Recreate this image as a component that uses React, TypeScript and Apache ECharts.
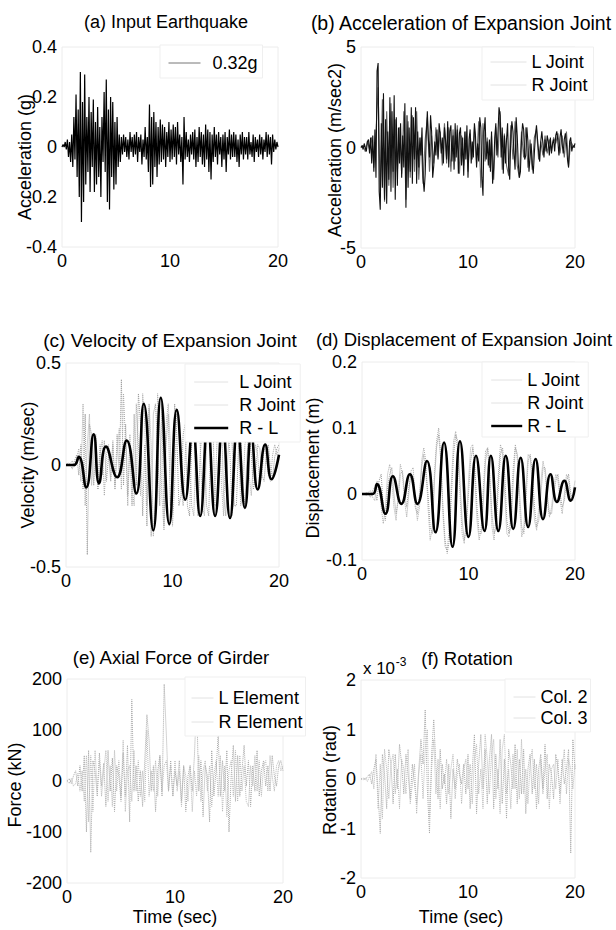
import React, { useEffect, useRef } from "react";
import * as echarts from "echarts";

const FONT = "'Liberation Sans', Arial, Helvetica, sans-serif";

// sampling steps of the recorded histories (s)
const STEP_FINE = 0.1;
const STEP_COARSE = 0.2;

// time axis
const timeMin = 0;
const timeMax = 20;
const timeInterval = 10;

// y-axis ranges [min, max, interval] per panel
const rangeA = [-0.4, 0.4, 0.2];
const rangeB = [-5, 5, 5];
const rangeC = [-0.5, 0.5, 0.5];
const rangeD = [-0.1, 0.2, 0.1];
const rangeE = [-200, 200, 100];
const rangeF = [-2, 2, 1]; // x 10^-3 rad

const panelTitles = [
  "(a) Input Earthquake",
  "(b) Acceleration of Expansion Joint",
  "(c) Velocity of Expansion Joint",
  "(d) Displacement of Expansion Joint",
  "(e) Axial Force of Girder",
  "(f) Rotation",
];
const yTitles = [
  "Acceleration (g)",
  "Acceleration (m/sec2)",
  "Velocity (m/sec)",
  "Displacement (m)",
  "Force (kN)",
  "Rotation (rad)",
];
const xTitle = "Time (sec)";

// (a) input earthquake, g, every 0.1 s
const inputAccel = [
  0, 0.01, 0, 0.02, -0.01, 0.03, -0.04, 0.02, -0.06, 0.05,
  -0.08, 0.12, -0.05, 0.21, -0.12, 0.15, -0.2, 0.3, -0.3, 0.18,
  -0.22, 0.29, -0.15, 0.12, -0.1, 0.2, -0.18, 0.14, -0.08, 0.19,
  -0.18, 0.1, -0.15, 0.16, -0.12, 0.08, -0.2, 0.12, -0.06, 0.22,
  -0.1, 0.27, -0.22, 0.15, -0.25, 0.2, -0.12, 0.18, -0.17, 0.1,
  -0.15, 0.12, -0.08, 0.05, -0.06, 0.04, -0.03, 0.05, -0.02, 0.04,
  -0.04, 0.03, -0.05, 0.06, -0.02, 0.04, -0.04, 0.05, -0.03, 0.06,
  -0.06, 0.04, -0.02, 0.05, -0.07, 0.03, -0.04, 0.08, -0.05, 0.04,
  -0.1, 0.17, -0.16, 0.12, -0.15, 0.14, -0.08, 0.1, -0.12, 0.08,
  -0.07, 0.11, -0.06, 0.09, -0.05, 0.08, -0.08, 0.06, -0.04, 0.1,
  -0.06, 0.07, -0.05, 0.09, -0.04, 0.08, -0.07, 0.1, -0.03, 0.05,
  -0.06, 0.04, -0.15, 0.12, -0.05, 0.06, -0.04, 0.03, -0.06, 0.05,
  -0.03, 0.06, -0.05, 0.07, -0.08, 0.04, -0.06, 0.08, -0.04, 0.06,
  -0.07, 0.05, -0.08, 0.09, -0.05, 0.07, -0.1, 0.06, -0.13, 0.05,
  -0.06, 0.08, -0.04, 0.05, -0.07, 0.06, -0.03, 0.04, -0.08, 0.05,
  -0.05, 0.06, -0.1, 0.04, -0.03, 0.07, -0.05, 0.05, -0.04, 0.06,
  -0.04, 0.05, -0.06, 0.03, -0.08, 0.05, -0.03, 0.06, -0.05, 0.04,
  -0.03, 0.04, -0.05, 0.06, -0.03, 0.02, -0.04, 0.05, -0.06, 0.04,
  -0.02, 0.03, -0.04, 0.05, -0.03, 0.04, -0.05, 0.03, -0.02, 0.06,
  -0.04, 0.05, -0.03, 0.04, -0.07, 0.05, -0.02, 0.03, -0.01, 0.02,
  0,
];

// (b) joint accelerations, m/s2
const accelRJoint = [ // every 0.1 s
  0, 0.1, -0.1, 0.2, 0, -0.2, 0.3, 0.4, -0.3, 0.5,
  -0.8, 0.6, -1.2, 0.9, -1.5, 3.8, 4.2, -2.2, -3.1, 1.2,
  -2.0, 2.7, -2.6, 1.4, -2.8, 0.8, -1.6, 2.5, -2.2, 1.8,
  -1.2, 2.6, -2.6, 1.5, -1.9, 1.0, -0.8, 1.2, -1.5, 0.6,
  -1.0, 2.2, -3.0, 1.6, -2.0, 1.0, -1.2, 2.0, -1.8, 1.5,
  -0.6, 2.0, -1.8, 0.8, -1.0, 0.5, -0.4, 1.0, -1.5, -2.2,
  -1.3, 0.6, 1.8, 0.4, -0.5, 1.6, 0.8, -1.5, -0.9, 0.3,
  -0.4, 0.9, -0.6, 1.2, 0.7, -0.3, 0.5, -0.8, 1.0, 0.4,
  -0.6, 1.3, -1.0, 0.8, 1.1, -0.7, 0.6, -1.1, 1.2, -0.5,
  0.9, -1.3, 0.7, 1.0, -0.9, 0.5, -1.4, 0.8, -0.6, 1.1,
  -1.5, 0.4, 0.9, -0.8, 0.3, -0.5, 1.2, 0.6, -1.0, 0.2,
  -0.7, 1.5, 1.0, -1.5, -2.4, 0.8, 1.5, -0.6, 0.3, -0.9,
  0.4, -1.2, 0.8, -1.8, -1.0, 0.5, 1.2, -0.4, 0.7, 2.0,
  1.6, -0.5, 1.0, -1.3, 0.6, -0.8, 0.4, 1.2, -1.0, -1.6,
  0.5, 1.3, 0.8, -0.3, -1.1, 1.5, 0.6, -0.8, -1.5, -1.2,
  0.4, 1.2, 0.9, -0.6, -0.4, 1.0, 0.3, -1.2, -0.5, 0.2,
  -0.8, -1.3, -0.3, 0.6, 1.1, 0.4, -0.2, -0.7, 0.3, 0.8,
  0.2, -0.5, 0.4, -0.2, 0.6, 0.3, -0.4, 0.5, -0.3, 0.2,
  0.4, -0.2, 0.6, 0.8, 0.3, -0.4, 0.5, 0.9, 0.2, -0.3,
  0.4, 0.7, 0.2, -0.6, -1.0, 0.3, 0.5, -0.2, 0.1, 0,
  0.2,
];
const accelLJoint = [ // every 0.2 s
  0, 0.1, -0.2, 0.3, -0.1, 0.5, -1.0, 0.8, 3.0, -2.5,
  2.4, -2.7, 1.8, -1.9, 2.2, -2.0, 1.4, -1.2, 1.0, -1.3,
  1.8, -2.6, 1.3, -1.5, 1.6, -1.2, 1.8, -1.6, 0.5, -1.8,
  0.4, 1.5, -1.2, 0.6, -0.8, 1.0, -0.5, 0.8, -0.9, 1.2,
  -0.8, 1.0, -1.2, 0.9, -0.7, 1.1, -1.3, 0.6, -0.9, 0.8,
  -1.2, 0.7, -0.6, 1.0, -0.8, 1.3, -2.0, 1.2, -0.7, 0.5,
  -1.0, 0.6, -1.6, 1.0, -0.5, 1.8, -1.1, 0.7, -0.9, -1.4,
  1.1, -0.6, 1.3, -0.9, -1.5, 0.8, -0.5, 1.0, -1.0, 0.4,
  -1.1, 0.5, 0.9, -0.6, 0.3, -0.4, 0.6, -0.3, 0.4, -0.2,
  0.5, 0.2, 0.7, -0.3, 0.6, -0.5, 0.8, -0.9, 0.3, 0.1,
  0,
];

// (c) joint velocities, m/s, every 0.2 s
const velLJoint = [
  0, 0.01, 0, -0.02, 0.02, 0.05, -0.05, 0.1, -0.12, 0.25,
  -0.44, 0.2, 0.15, -0.1, 0.08, -0.12, 0.1, -0.05, 0.12, -0.08,
  0.05, -0.08, 0.1, -0.12, 0.15, -0.05, 0.42, -0.1, 0.2, -0.15,
  0.1, -0.2, 0.25, -0.1, 0.35, 0.2, -0.25, 0.1, -0.3, 0.28,
  -0.35, 0.25, 0.3, 0.1, -0.2, 0.3, -0.3, 0.1, 0.25, -0.2,
  -0.1, 0.3, 0.15, -0.2, -0.15, 0.15, 0.2, -0.2, -0.25, 0.1,
  0.2, -0.1, -0.25, 0.05, 0.2, 0.1, -0.2, -0.25, 0.15, 0.2,
  -0.2, -0.2, 0.1, 0.22, -0.15, -0.25, 0.05, 0.2, 0.1, -0.2,
  -0.2, 0.1, 0.18, -0.1, -0.2, 0.05, 0.15, 0.05, -0.12, -0.05,
  0.1, 0.08, -0.05, -0.08, 0.05, 0.1, -0.02, -0.06, 0.04, 0.08,
  0.1,
];
const velRJoint = [
  0, 0, 0.01, 0.02, -0.01, 0.03, 0.08, -0.08, 0.3, -0.2,
  0.1, 0.25, -0.1, 0.05, 0.15, -0.1, 0.05, 0.12, -0.15, 0.05,
  0.1, -0.06, 0.12, -0.1, 0.05, 0.18, -0.12, 0.35, 0.1, -0.2,
  0.15, -0.1, -0.2, 0.3, 0.1, -0.15, 0.35, 0.2, -0.2, 0.3,
  0.1, -0.35, -0.2, 0.35, 0.2, -0.15, -0.32, 0.2, 0.3, 0.1,
  -0.3, -0.1, 0.25, 0.2, -0.1, -0.2, 0.05, 0.25, 0.1, -0.2,
  -0.25, 0.1, 0.2, 0.1, -0.2, -0.25, 0.1, 0.2, 0.05, -0.22,
  -0.15, 0.15, 0.2, -0.1, -0.25, 0.1, 0.2, 0.05, -0.25, -0.1,
  0.2, 0.12, -0.2, -0.15, 0.1, 0.15, -0.05, -0.15, 0.02, 0.1,
  0.05, -0.1, -0.05, 0.08, 0.05, -0.05, -0.08, 0.05, 0.1, 0.05,
  0.08,
];
// relative velocity R - L: [time s, m/s] at turning points
const velRL = [
  [0, 0], [0.75, 0], [1.2, 0.04], [1.9, -0.11], [2.6, 0.15], [3.1, -0.09],
  [3.75, 0.09], [4.8, -0.06], [5.7, 0.12], [6.6, -0.14], [7.3, 0.3],
  [8.2, -0.32], [8.9, 0.33], [9.7, -0.29], [10.4, 0.27], [11.2, -0.17],
  [11.9, 0.18], [12.6, -0.25], [13.3, 0.2], [14.0, -0.25], [14.7, 0.2],
  [15.4, -0.26], [16.1, 0.19], [16.8, -0.21], [17.4, 0.15], [18.0, -0.12],
  [18.7, 0.1], [19.3, -0.07], [20, 0.05],
];

// (d) joint displacements, m, every 0.2 s
const dispLJoint = [
  0, 0, 0.002, 0, -0.005, 0.005, 0.01, -0.01, 0.02, 0.03,
  -0.02, -0.04, 0.01, 0.03, 0.04, 0, -0.03, -0.01, 0.03, 0.035,
  0, -0.02, 0.01, 0.03, 0.02, -0.02, -0.03, 0, 0.04, 0.06,
  0.03, 0, -0.05, -0.06, 0.02, 0.07, 0.09, 0.05, -0.02, -0.07,
  -0.09, -0.07, 0, 0.06, 0.09, 0.08, 0.02, -0.04, -0.07, -0.05,
  0, 0.05, 0.07, 0.04, -0.02, -0.06, -0.06, -0.01, 0.05, 0.07,
  0.03, -0.03, -0.06, -0.05, 0.01, 0.06, 0.07, 0.03, -0.04, -0.06,
  -0.05, 0.02, 0.07, 0.06, 0, -0.05, -0.06, -0.01, 0.05, 0.06,
  0.03, -0.02, -0.05, -0.04, 0, 0.04, 0.04, 0, -0.03, -0.03,
  0, 0.02, 0.03, 0, -0.02, -0.01, 0.02, 0.03, 0, -0.01,
  0.01,
];
const dispRJoint = [
  0, 0, -0.002, 0.003, 0.005, -0.005, -0.01, 0.02, 0.015, -0.02,
  -0.045, -0.02, 0.03, 0.045, 0.02, -0.02, -0.04, 0, 0.045, 0.03,
  -0.01, -0.035, 0, 0.035, 0.04, -0.01, -0.04, -0.02, 0.05, 0.07,
  0.05, -0.02, -0.07, -0.05, 0.03, 0.08, 0.1, 0.06, -0.03, -0.08,
  -0.085, -0.05, 0.02, 0.08, 0.095, 0.06, 0, -0.06, -0.075, -0.04,
  0.02, 0.07, 0.075, 0.02, -0.04, -0.07, -0.05, 0.01, 0.065, 0.07,
  0.02, -0.05, -0.07, -0.03, 0.03, 0.075, 0.06, 0, -0.06, -0.065,
  -0.02, 0.04, 0.075, 0.05, -0.02, -0.065, -0.05, 0.01, 0.06, 0.055,
  0.01, -0.04, -0.055, -0.02, 0.02, 0.05, 0.03, -0.01, -0.035, -0.02,
  0.01, 0.03, 0.02, -0.01, -0.03, 0, 0.03, 0.02, -0.01, 0,
  0.02,
];
// relative displacement R - L: [time s, m] at turning points
const dispRL = [
  [0, 0], [1.0, 0], [1.4, 0.015], [2.2, -0.03], [2.9, 0.027], [3.7, -0.015],
  [4.5, 0.03], [5.2, -0.015], [6.1, 0.05], [6.9, -0.058], [7.7, 0.078],
  [8.5, -0.08], [9.2, 0.08], [10.0, -0.065], [10.7, 0.058], [11.5, -0.056],
  [12.1, 0.058], [12.8, -0.056], [13.5, 0.058], [14.2, -0.053], [14.9, 0.055],
  [15.6, -0.05], [16.3, 0.053], [17.0, -0.038], [17.7, 0.03], [18.3, -0.012],
  [19.0, 0.02], [19.6, -0.01], [20, 0.01],
];

// (e) girder axial forces, kN, every 0.2 s
const forceLElement = [
  0, 5, -5, 10, 20, -10, 30, -20, 50, -100,
  60, -140, 40, 20, -30, 55, -10, 35, -50, 60,
  -20, 45, -60, 30, 10, -40, 55, -30, 70, -80,
  160, -20, 30, -40, 20, -50, 40, 130, 80, -20,
  30, -60, 20, 50, -30, 190, 90, -20, 40, -30,
  20, -10, 40, -40, 30, -60, 10, 30, -20, 50,
  160, -20, 40, -70, 30, 10, -80, 60, -30, 20,
  90, -30, 40, -20, 60, -100, 10, 70, -40, 50,
  -30, 20, 70, -10, 40, -50, 30, -20, 60, -30,
  20, 40, -10, 30, -20, 50, 10, -10, 30, 40,
  20,
];
const forceRElement = [
  0, -5, 5, -10, -5, 15, -20, 20, -40, 50,
  -80, 50, -60, 60, -20, 40, -30, 20, 60, -40,
  30, -50, 60, -20, 40, -30, 80, -60, 20, 30,
  -40, 60, -20, 40, -30, 20, -40, 100, -30, 20,
  -20, 40, -30, 50, -20, 30, 40, -20, 30, -30,
  40, -20, 20, -50, 30, 10, -40, 30, -60, 20,
  -30, 50, -40, 20, 40, -20, 30, -50, 10, 40,
  -30, 50, -60, 30, -70, 20, 40, -30, 60, -40,
  50, -20, 30, -40, -50, 30, -10, 50, -20, 40,
  -30, 30, 40, -20, 50, 10, -20, 30, 40, 20,
  30,
];

// (f) column rotations, x 10^-3 rad, every 0.2 s
const rotCol2 = [
  0, 0.02, -0.02, 0.05, 0.1, -0.1, 0.2, 0.4, -0.3, -1.1,
  0.5, 0.1, -0.6, 0.6, 0.3, -0.5, 0.5, -0.2, 0.7, 0.3,
  -0.3, 0.5, 0.1, -0.4, 0.3, -0.1, -0.5, 0.2, 0.8, 0.3,
  1.4, -0.2, -1.1, 0.5, 1.2, 0.3, -0.4, 0.6, -0.2, 0.1,
  -0.5, 0.3, -0.8, 0.2, -0.2, 0.4, 0.1, -0.1, 0.3, -0.3,
  0.5, -0.6, 0.2, 0.9, -0.7, 0.3, 0.9, -0.2, 0.6, -0.5,
  0.4, 0.9, -0.6, 0.5, -0.2, 0.8, -0.5, 0.4, -0.8, 0.6,
  0.3, -0.2, 0.7, -0.5, 0.4, -0.3, 0.6, -0.7, 0.2, 0.5,
  -0.3, 0.4, -0.6, 0.2, 0.5, -0.2, 0.7, -0.4, 0.3, 0.1,
  -0.4, 0.5, 0.2, -0.3, 0.4, -0.1, 0.2, 0.6, -1.5, 0.8,
  0.2,
];
const rotCol3 = [
  0, -0.02, 0.03, -0.05, 0.05, 0.15, -0.2, 0.5, -0.6, 0.3,
  -0.8, 0.6, 0.2, -0.4, 0.3, 0.5, -0.3, 0.2, -0.6, 0.4,
  0.2, -0.3, 0.6, -0.5, -0.1, 0.3, -0.7, 0.1, 0.5, -0.4,
  0.6, 1.0, -0.8, 0.2, 0.8, -0.3, 0.4, -0.6, 0.3, -0.1,
  0.4, -0.3, 0.2, 0.5, -0.4, 0.1, 0.3, -0.5, 0.2, 0.4,
  -0.2, 0.3, -0.5, 0.4, 0.7, -0.3, 0.2, -0.6, 0.9, 0.4,
  -0.3, 0.5, 0.8, -0.4, 0.2, -0.7, 0.6, 0.9, -0.3, 0.2,
  -0.6, 0.5, -0.2, 0.6, -0.4, 0.8, -0.3, 0.2, -0.5, 0.3,
  0.6, -0.2, 0.3, -0.5, 0.4, -0.3, 0.2, 0.5, -0.6, 0.2,
  0.3, -0.2, 0.4, -0.5, 0.2, 0.6, -0.3, 0.4, 0.2, -0.2,
  0.3,
];

const sampled = (vals: number[], step: number) =>
  vals.map((v, i) => [Math.round(i * step * 100) / 100, v]);

const gridBoxes = [
  { left: 62, top: 47, width: 216, height: 200 },
  { left: 361, top: 47, width: 214, height: 201 },
  { left: 66, top: 363, width: 213, height: 204 },
  { left: 362, top: 362, width: 213, height: 198 },
  { left: 67, top: 679, width: 216, height: 204 },
  { left: 361, top: 680, width: 214, height: 198 },
];

export default function App() {
  const ref = useRef<HTMLDivElement>(null);
  useEffect(() => {
    document.body.style.margin = "0";
    if (!ref.current) return;
    const chart = echarts.init(ref.current, undefined, { renderer: "svg" });

    const labelStyle = { fontSize: 18, color: "#000", fontFamily: FONT };
    const ranges = [rangeA, rangeB, rangeC, rangeD, rangeE, rangeF];

    const grid = gridBoxes.map((g) => ({
      ...g,
      show: true,
      borderColor: "#ececec",
      borderWidth: 1,
      backgroundColor: "transparent",
    }));
    const xAxis = gridBoxes.map((_, i) => ({
      type: "value",
      gridIndex: i,
      min: timeMin,
      max: timeMax,
      interval: timeInterval,
      axisLine: { show: false },
      axisTick: { show: false },
      splitLine: { show: false },
      axisLabel: { ...labelStyle, margin: 5 },
    }));
    const yAxis = ranges.map((r, i) => ({
      type: "value",
      gridIndex: i,
      min: r[0],
      max: r[1],
      interval: r[2],
      axisLine: { show: false },
      axisTick: { show: false },
      splitLine: { show: false },
      axisLabel: { ...labelStyle, margin: 5 },
    }));

    const line = (name: string, gi: number, data: any, color: string, width: number, type = "solid", extra: any = {}) => ({
      type: "line",
      name,
      xAxisIndex: gi,
      yAxisIndex: gi,
      data,
      symbol: "none",
      showSymbol: false,
      lineStyle: { color, width, type },
      itemStyle: { color },
      ...extra,
    });

    const series = [
      line("0.32g", 0, sampled(inputAccel, STEP_FINE), "#000", 1.2),
      line("L Joint", 1, sampled(accelLJoint, STEP_COARSE), "#666", 1.1),
      line("R Joint", 1, sampled(accelRJoint, STEP_FINE), "#111", 1.1),
      line("L Joint", 2, sampled(velLJoint, STEP_COARSE), "#9a9a9a", 1, "dotted"),
      line("R Joint", 2, sampled(velRJoint, STEP_COARSE), "#aaaaaa", 1, "dotted"),
      line("R - L", 2, velRL, "#000", 2.6, "solid", { smooth: 0.5 }),
      line("L Joint", 3, sampled(dispLJoint, STEP_COARSE), "#9a9a9a", 1, "dotted"),
      line("R Joint", 3, sampled(dispRJoint, STEP_COARSE), "#aaaaaa", 1, "dotted"),
      line("R - L", 3, dispRL, "#000", 2.6, "solid", { smooth: 0.5 }),
      line("L Element", 4, sampled(forceLElement, STEP_COARSE), "#a8a8a8", 1, "dotted"),
      line("R Element", 4, sampled(forceRElement, STEP_COARSE), "#b8b8b8", 1, "dotted"),
      line("Col. 2", 5, sampled(rotCol2, STEP_COARSE), "#a8a8a8", 1, "dotted"),
      line("Col. 3", 5, sampled(rotCol3, STEP_COARSE), "#b8b8b8", 1, "dotted"),
    ];

    const faint = { color: "#e2e2e2", width: 1, type: "solid" };
    const noSymbol = { opacity: 0, borderWidth: 0 };
    const item = (name: string, lineStyle: any) => ({ name, lineStyle, itemStyle: noSymbol });
    const legendBase = {
      orient: "vertical",
      itemHeight: 14,
      itemGap: 5,
      selectedMode: false,
      backgroundColor: "#fff",
      borderColor: "#efefef",
      borderWidth: 1,
      itemStyle: noSymbol,
      textStyle: { fontSize: 18, color: "#000", fontFamily: FONT, lineHeight: 18 },
    };
    const rl = { color: "#000", width: 2.4, type: "solid" };
    const legend = [
      { ...legendBase, left: 160, top: 45, padding: [9, 5, 6, 8], itemWidth: 32,
        textStyle: { ...legendBase.textStyle, padding: [0, 0, 0, 7] },
        data: [item("0.32g", { color: "#777", width: 1, type: "solid" })] },
      { ...legendBase, left: 482, top: 47, padding: [6, 6, 6, 8], itemWidth: 36,
        data: [item("L Joint", faint), item("R Joint", faint)] },
      { ...legendBase, left: 185, top: 364, padding: [9, 5, 5, 8], itemWidth: 34,
        textStyle: { ...legendBase.textStyle, padding: [0, 0, 0, 6] },
        data: [item("L Joint", faint), item("R Joint", faint), item("R - L", rl)] },
      { ...legendBase, left: 482, top: 362, padding: [9, 5, 2, 8], itemWidth: 31,
        data: [item("L Joint", faint), item("R Joint", faint), item("R - L", rl)] },
      { ...legendBase, left: 185, top: 677, padding: [12, 3, 5, 6], itemWidth: 22, itemGap: 6,
        data: [item("L Element", faint), item("R Element", faint)] },
      { ...legendBase, left: 505, top: 679, padding: [9, 3, 5, 8], itemWidth: 22, itemGap: 3,
        data: [item("Col. 2", faint), item("Col. 3", faint)] },
    ];

    const titlePos = [[166, 22, 18], [461, 23, 19.5], [170, 340, 19], [464, 339, 18.5], [171, 657, 18.5], [467, 658, 18.5]];
    const yTitlePos = [[25, 157], [335, 150], [28, 465], [313, 468], [15, 785], [330, 780]];
    const txt = (text: string, x: number, y: number, size: number, rot = 0) => ({
      type: "text",
      x,
      y,
      rotation: rot,
      z: 10,
      style: {
        text,
        fill: "#000",
        font: `${size}px ${FONT}`,
        align: "center",
        verticalAlign: "middle",
        textAlign: "center",
        textVerticalAlign: "middle",
      },
    });
    const graphic = [
      ...panelTitles.map((t, i) => txt(t, titlePos[i][0], titlePos[i][1], titlePos[i][2])),
      ...yTitles.map((t, i) => txt(t, yTitlePos[i][0], yTitlePos[i][1], 18, Math.PI / 2)),
      txt(xTitle, 175, 917, 18),
      txt(xTitle, 461, 917, 18),
      txt("x 10", 379, 668, 17),
      txt("-3", 401, 662, 12),
    ];

    chart.setOption({
      animation: false,
      backgroundColor: "#fff",
      grid,
      xAxis,
      yAxis,
      series,
      legend,
      graphic,
    });
    return () => chart.dispose();
  }, []);
  return <div ref={ref} style={{ width: 616, height: 930 }} />;
}
